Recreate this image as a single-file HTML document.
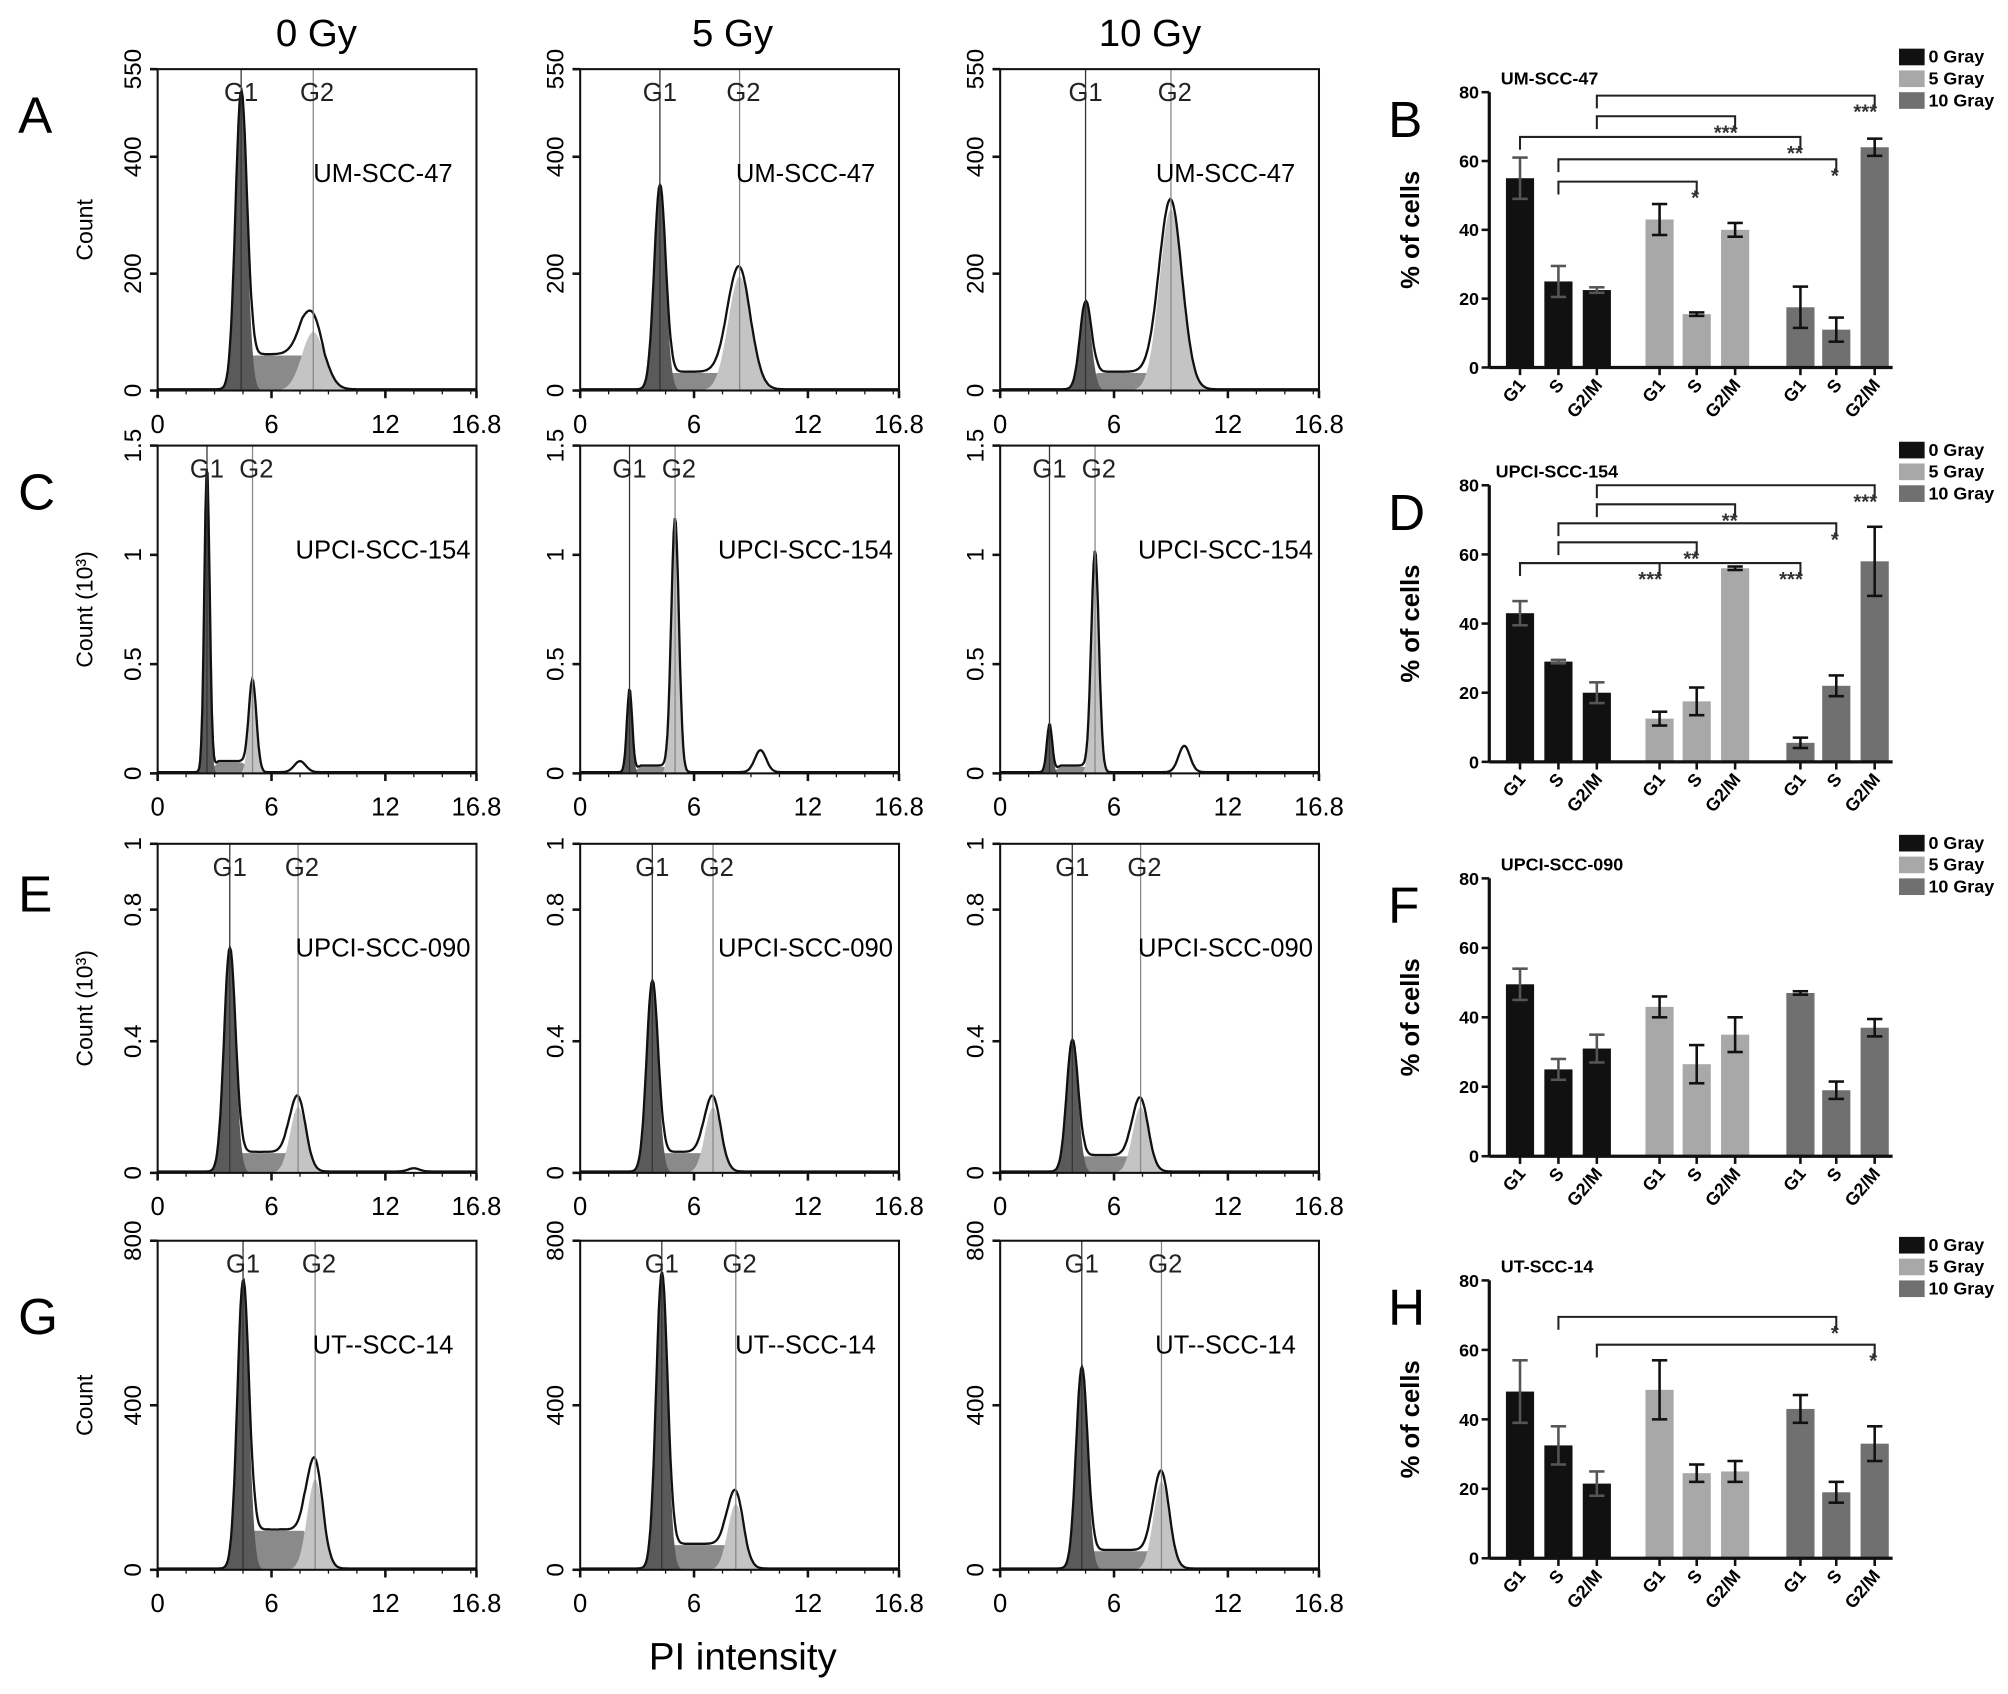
<!DOCTYPE html>
<html><head><meta charset="utf-8"><style>
html,body{margin:0;padding:0;background:#fff}
svg{display:block;font-family:"Liberation Sans",Arial,sans-serif}
</style></head><body>
<svg id="fig" width="2008" height="1694" viewBox="0 0 1568 1323" xmlns="http://www.w3.org/2000/svg"></svg>
<script>
// ---------- histogram data ----------
const colTitles = ["0 Gy","5 Gy","10 Gy"];
const rowLetters = ["A","C","E","G"];
const rowCellLines = ["UM-SCC-47","UPCI-SCC-154","UPCI-SCC-090","UT--SCC-14"];
const rowYMax = [550,1.5,1,800];
const rowYTicks = [[0,200,400,550],[0,0.5,1,1.5],[0,0.4,0.8,1],[0,400,800]];
const rowYTitles = ["Count","Count (10³)","Count (10³)","Count"];
const xTicks = [0,6,12,16.8];
// per panel [row][col]
const g1Pos = [[4.4,4.2,4.5],[2.6,2.6,2.6],[3.8,3.8,3.8],[4.5,4.3,4.3]];
const g1Height = [[510,350,150],[1.4,0.38,0.22],[0.68,0.58,0.4],[700,720,490]];
const g2Pos = [[8.2,8.4,9.0],[5.0,5.0,5.0],[7.4,7.0,7.4],[8.3,8.2,8.5]];
const g2Height = [[100,195,310],[0.4,1.15,1.0],[0.2,0.2,0.2],[220,160,215]];
const sLevel = [[60,30,30],[0.05,0.03,0.03],[0.06,0.06,0.05],[95,60,45]];
const extraPos = [[null,null,null],[7.5,9.5,9.7],[13.5,null,null],[null,null,null]];
const extraHeight = [[0,0,0],[0.05,0.1,0.12],[0.01,0,0],[0,0,0]];

// ---------- bar chart data ----------
const barTitles = ["UM-SCC-47","UPCI-SCC-154","UPCI-SCC-090","UT-SCC-14"];
const barLetters = ["B","D","F","H"];
const phases = ["G1","S","G2/M"];
const doses = ["0 Gray","5 Gray","10 Gray"];
const barValues = [
 [[55,25,22.5],[43,15.5,40],[17.5,11,64]],
 [[43,29,20],[12.5,17.5,56],[5.5,22,58]],
 [[49.5,25,31],[43,26.5,35],[47,19,37]],
 [[48,32.5,21.5],[48.5,24.5,25],[43,19,33]]];
const barErrors = [
 [[6,4.5,0.8],[4.5,0.5,2],[6,3.5,2.5]],
 [[3.5,0.5,3],[2,4,0.5],[1.5,3,10]],
 [[4.5,3,4],[3,5.5,5],[0.5,2.5,2.5]],
 [[9,5.5,3.5],[8.5,2.5,3],[4,3,5]]];
// brackets: [fromDose,fromPhase,toDose,toPhase,level,label]
const barBrackets = [
 [[0,2,2,2,79,"***"],[0,2,1,2,73,"***"],[0,0,2,0,67,"**"],[0,1,2,1,60.5,"*"],[0,1,1,1,54,"*"]],
 [[0,2,2,2,80,"***"],[0,2,1,2,74.5,"**"],[0,1,2,1,69,"*"],[0,1,1,1,63.5,"**"],[0,0,2,0,57.5,"***"],[0,0,1,0,57.5,"***"]],
 [],
 [[0,1,2,1,69.5,"*"],[0,2,2,2,61.5,"*"]]];
const yTicksBar = [0,20,40,60,80];

const svg = document.getElementById('fig');
const NS = "http://www.w3.org/2000/svg";
function mk(tag, attrs, parent, text){
  const e = document.createElementNS(NS, tag);
  for (const k in attrs) e.setAttribute(k, attrs[k]);
  if (text !== undefined) e.textContent = text;
  (parent||svg).appendChild(e);
  return e;
}

colTitles.forEach((t,i)=>{
  const e = mk('text',{x:[247,572,898][i],y:36,'font-size':30,'text-anchor':'middle'},svg,t);
  
  
});
const pi = mk('text',{x:580,y:1304,'font-size':30,'text-anchor':'middle'},svg,"PI intensity");



const colX = [123,453,781], colW = 249;
const rowTop = [54,348,659,969], rowBot = [305,604,916,1226];
const gauss = (x,m,s)=>Math.exp(-0.5*((x-m)/s)**2);

for (let r=0;r<4;r++){
  const L = mk('text',{x:14,y:[104,398,712,1042][r],'font-size':40},svg,rowLetters[r]);
  
  
  const yt = mk('text',{transform:`translate(72,${(rowTop[r]+rowBot[r])/2}) rotate(-90)`,'font-size':18,'text-anchor':'middle'},svg,rowYTitles[r]);
  
  
  for (let c=0;c<3;c++){
    const g = mk('g',{},svg);
    
    
    const x0=colX[c], x1=x0+colW, y0=rowTop[r], y1=rowBot[r];
    const X = v=>x0+v/16.8*colW, Y = v=>y1-v/rowYMax[r]*(y1-y0);
    const p1=g1Pos[r][c], p2=g2Pos[r][c], h1=g1Height[r][c], h2=g2Height[r][c], sl=sLevel[r][c];
    const s1 = r==1?0.14:0.3, s2 = r==1?0.2:(r==0?0.6:0.42);
    const comp = {
      g1:x=>h1*gauss(x,p1,s1),
      s:x=>(x>p1)? sl*Math.max(0,Math.min(1,(x-p1)/0.6,(p2+0.6-x)/1.2)):0,
      g2:x=>h2*gauss(x,p2,s2),
      ex:x=>extraPos[r][c]==null?0:extraHeight[r][c]*gauss(x,extraPos[r][c],0.3)
    };
    const N=300; const xs=[]; for(let i=0;i<=N;i++) xs.push(i/N*16.8);
    const area=(f,fill,name)=>{
      let d=`M${X(0)},${Y(0)}`; xs.forEach(x=>d+=`L${X(x).toFixed(1)},${Y(f(x)).toFixed(1)}`); d+=`L${X(16.8)},${Y(0)}Z`;
      const p=mk('path',{d,fill,stroke:'none'},g);
      
      
    };
    area(comp.s,'#8a8a8a','s-phase-fill');
    area(comp.g2,'#c4c4c4','g2-fill');
    area(comp.g1,'#5a5a5a','g1-fill');
    let d=''; xs.forEach((x,i)=>{const v=comp.g1(x)+comp.s(x)+comp.g2(x)+comp.ex(x)+rowYMax[r]*0.004; d+=(i?'L':'M')+X(x).toFixed(1)+','+Y(v).toFixed(1);});
    const tot=mk('path',{d,fill:'none',stroke:'#111','stroke-width':1.8},g);
    
    
    mk('line',{x1:X(p1),x2:X(p1),y1:y0,y2:y1,stroke:'#333','stroke-width':1},g);
    mk('line',{x1:X(p2),x2:X(p2),y1:y0,y2:y1,stroke:'#888','stroke-width':1},g);
    mk('text',{x:X(p1),y:y0+25,'font-size':20,'text-anchor':'middle',fill:'#222'},g,'G1');
    mk('text',{x:X(p2)+3,y:y0+25,'font-size':20,'text-anchor':'middle',fill:'#222'},g,'G2');
    const cl=mk('text',{x:x0+176,y:y0+88,'font-size':20,'text-anchor':'middle'},g,rowCellLines[r]);
    
    
    mk('rect',{x:x0,y:y0,width:colW,height:y1-y0,fill:'none',stroke:'#111','stroke-width':1.6},g);
    xTicks.forEach(t=>{
      mk('line',{x1:X(t),x2:X(t),y1:y1,y2:y1+6,stroke:'#111','stroke-width':2},g);
      mk('text',{x:X(t),y:y1+33,'font-size':20,'text-anchor':'middle'},g,String(t));
    });
    for(let t=1.5;t<16.8;t+=1.5) mk('line',{x1:X(t),x2:X(t),y1:y1,y2:y1+3,stroke:'#111'},g);
    rowYTicks[r].forEach(t=>{
      mk('line',{x1:x0-6,x2:x0,y1:Y(t),y2:Y(t),stroke:'#111','stroke-width':2},g);
      mk('text',{transform:`translate(${x0-13},${Y(t)}) rotate(-90)`,'font-size':19,'text-anchor':'middle'},g,String(t));
    });
  }
}

const barAxisX = 1163, barRight = 1478;
const bar0 = [287,595,903,1217], bar80=[72,379,686,1000];
const barCenters = [[1187,1217,1247],[1296,1325,1355],[1406,1434,1464]];
const doseColors = ['#111','#a8a8a8','#707070'];
for (let k=0;k<4;k++){
  const g=mk('g',{},svg);
  
  
  const Y=v=>bar0[k]-v/80*(bar0[k]-bar80[k]);
  mk('text',{x:1084,y:bar80[k]+35,'font-size':40},g,barLetters[k]);
  mk('text',{x:k==1?1168:1172,y:bar80[k]-6,'font-size':14,'font-weight':'bold'},g,barTitles[k]);
  const yl=mk('text',{transform:`translate(1108,${(bar0[k]+bar80[k])/2}) rotate(-90)`,'font-size':20,'font-weight':'bold','text-anchor':'middle'},g,'% of cells');
  
  
  const lt=[bar80[k]-28,bar80[k]-11,bar80[k]+6];
  doses.forEach((d,i)=>{
    const ly = lt[i];
    const lg=mk('g',{},g);
    
    
    mk('rect',{x:1483,y:ly-6,width:20,height:13,fill:doseColors[i]},lg);
    mk('text',{x:1506,y:ly+5,'font-size':14,'font-weight':'bold'},lg,d);
  });
  for(let di=0;di<3;di++) for(let pi=0;pi<3;pi++){
    const v=barValues[k][di][pi], e=barErrors[k][di][pi], cx=barCenters[di][pi];
    const b=mk('rect',{x:cx-11,y:Y(v),width:22,height:bar0[k]-Y(v),fill:doseColors[di]},g);
    
    
    const ec = di==0?'#555':'#111';
    mk('line',{x1:cx,x2:cx,y1:Y(v+e),y2:Y(v-e),stroke:ec,'stroke-width':2},g);
    mk('line',{x1:cx-6,x2:cx+6,y1:Y(v+e),y2:Y(v+e),stroke:ec,'stroke-width':2},g);
    mk('line',{x1:cx-6,x2:cx+6,y1:Y(v-e),y2:Y(v-e),stroke:ec,'stroke-width':2},g);
    mk('line',{x1:cx,x2:cx,y1:bar0[k],y2:bar0[k]+6,stroke:'#111','stroke-width':2},g);
    mk('text',{transform:`translate(${cx+5},${bar0[k]+14}) rotate(-50)`,'font-size':14,'font-weight':'bold','text-anchor':'end'},g,phases[pi]);
  }
  mk('line',{x1:barAxisX,x2:barAxisX,y1:bar80[k],y2:bar0[k],stroke:'#111','stroke-width':2.5},g);
  mk('line',{x1:barAxisX,x2:barRight,y1:bar0[k],y2:bar0[k],stroke:'#111','stroke-width':2.5},g);
  yTicksBar.forEach(t=>{
    mk('line',{x1:barAxisX-6,x2:barAxisX,y1:Y(t),y2:Y(t),stroke:'#111','stroke-width':2},g);
    mk('text',{x:barAxisX-8,y:Y(t)+5,'font-size':14,'font-weight':'bold','text-anchor':'end'},g,String(t));
  });
  barBrackets[k].forEach(br=>{
    const xa=barCenters[br[0]][br[1]], xb=barCenters[br[2]][br[3]], yy=Y(br[4]);
    const bg=mk('g',{},g);
    
    
    mk('path',{d:`M${xa},${yy+10}V${yy}H${xb}V${yy+10}`,fill:'none',stroke:'#222','stroke-width':1.6},bg);
    mk('text',{x:xb+2,y:yy+18,'font-size':16,'font-weight':'bold','text-anchor':'end',fill:'#333'},bg,br[5]);
  });
}
</script>
</body></html>
